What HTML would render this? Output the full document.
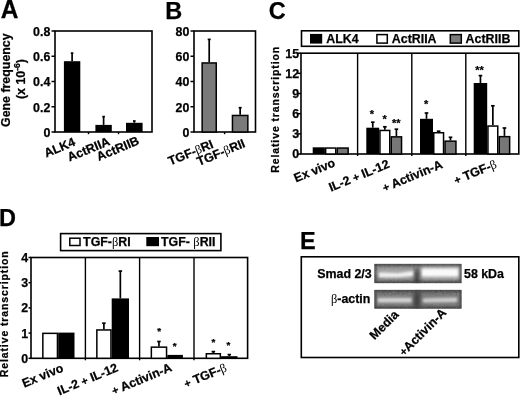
<!DOCTYPE html>
<html><head><meta charset="utf-8"><style>
html,body{margin:0;padding:0;background:#fff;width:520px;height:396px;overflow:hidden}
svg{display:block;will-change:transform} text{stroke:#000;stroke-width:0.25px} .b{stroke-width:0}
</style></head><body>
<svg width="520" height="396" viewBox="0 0 520 396" font-family="Liberation Sans, sans-serif" font-weight="bold">
<text id="pA" x="0.8" y="17.6" font-size="24.5" transform="translate(0 17.6) scale(1 1.08) translate(0 -17.6)">A</text>
<text id="pB" x="165.3" y="18.65" font-size="23.5" text-anchor="start">B</text>
<text id="pC" x="268.85" y="18.5" font-size="23.5" text-anchor="start">C</text>
<text id="pD" x="-1.1" y="225.65" font-size="23.5" text-anchor="start">D</text>
<text id="pE" x="300.0" y="249.05" font-size="23.5" text-anchor="start">E</text>
<rect x="55" y="31.0" width="97" height="101.0" fill="none" stroke="#000" stroke-width="1.6"/>
<line x1="51.5" y1="31" x2="55" y2="31" stroke="#000" stroke-width="1.5"/>
<text x="50.3" y="35.95" font-size="12.4" text-anchor="end">0.8</text>
<line x1="51.5" y1="56.25" x2="55" y2="56.25" stroke="#000" stroke-width="1.5"/>
<text x="50.3" y="61.2" font-size="12.4" text-anchor="end">0.6</text>
<line x1="51.5" y1="81.5" x2="55" y2="81.5" stroke="#000" stroke-width="1.5"/>
<text x="50.3" y="86.45" font-size="12.4" text-anchor="end">0.4</text>
<line x1="51.5" y1="106.75" x2="55" y2="106.75" stroke="#000" stroke-width="1.5"/>
<text x="50.3" y="111.7" font-size="12.4" text-anchor="end">0.2</text>
<line x1="51.5" y1="132.0" x2="55" y2="132.0" stroke="#000" stroke-width="1.5"/>
<text x="50.3" y="136.95" font-size="12.4" text-anchor="end">0</text>
<rect x="63.9" y="61.2" width="16.4" height="70.8" fill="#000"/>
<line x1="72.1" y1="61.2" x2="72.1" y2="53.1" stroke="#000" stroke-width="1.7"/>
<line x1="70.8" y1="53.1" x2="73.4" y2="53.1" stroke="#000" stroke-width="1.7"/>
<rect x="95.4" y="124.9" width="16.4" height="7.1" fill="#000"/>
<line x1="103.6" y1="124.9" x2="103.6" y2="116.6" stroke="#000" stroke-width="1.7"/>
<line x1="102.3" y1="116.6" x2="104.9" y2="116.6" stroke="#000" stroke-width="1.7"/>
<rect x="126" y="122.8" width="16.6" height="9.2" fill="#000"/>
<line x1="134.3" y1="122.8" x2="134.3" y2="121" stroke="#000" stroke-width="1.7"/>
<line x1="133.0" y1="121" x2="135.6" y2="121" stroke="#000" stroke-width="1.7"/>
<line x1="88.5" y1="132.0" x2="88.5" y2="134.2" stroke="#000" stroke-width="1.4"/>
<line x1="118.5" y1="132.0" x2="118.5" y2="134.2" stroke="#000" stroke-width="1.4"/>
<text id="ya1" x="10.2" y="127.0" font-size="12.4" text-anchor="start" transform="rotate(-90 10.2 127.0)">Gene frequency</text>
<text id="ya2" x="24.95" y="99.0" font-size="12.4" text-anchor="start" transform="rotate(-90 24.95 99.0)">(x 10<tspan font-size="8.5" dy="-5">-6</tspan><tspan dy="5">)</tspan></text>
<text id="la1" x="46.3" y="157.6" font-size="12.4" text-anchor="start" transform="rotate(-22.5 46.3 157.6)">ALK4</text>
<text id="la2" x="69.5" y="161.6" font-size="12.4" text-anchor="start" transform="rotate(-22.5 69.5 161.6)">ActRIIA</text>
<text id="la3" x="98.8" y="161.0" font-size="12.4" text-anchor="start" transform="rotate(-22.5 98.8 161.0)">ActRIIB</text>
<rect x="194" y="31.0" width="61.5" height="101.0" fill="none" stroke="#000" stroke-width="1.6"/>
<line x1="190.5" y1="31.0" x2="194" y2="31.0" stroke="#000" stroke-width="1.5"/>
<text x="189.3" y="35.95" font-size="12.4" text-anchor="end">80</text>
<line x1="190.5" y1="56.25" x2="194" y2="56.25" stroke="#000" stroke-width="1.5"/>
<text x="189.3" y="61.2" font-size="12.4" text-anchor="end">60</text>
<line x1="190.5" y1="81.5" x2="194" y2="81.5" stroke="#000" stroke-width="1.5"/>
<text x="189.3" y="86.45" font-size="12.4" text-anchor="end">40</text>
<line x1="190.5" y1="106.75" x2="194" y2="106.75" stroke="#000" stroke-width="1.5"/>
<text x="189.3" y="111.7" font-size="12.4" text-anchor="end">20</text>
<line x1="190.5" y1="132.0" x2="194" y2="132.0" stroke="#000" stroke-width="1.5"/>
<text x="189.3" y="136.95" font-size="12.4" text-anchor="end">0</text>
<rect x="202.15" y="62.95" width="14.1" height="69.05" fill="#7a7a7a" stroke="#000" stroke-width="1.5"/>
<line x1="209.2" y1="62.2" x2="209.2" y2="39.4" stroke="#000" stroke-width="1.7"/>
<line x1="207.7" y1="39.4" x2="210.7" y2="39.4" stroke="#000" stroke-width="1.7"/>
<rect x="232.45" y="115.45" width="15.4" height="16.55" fill="#7a7a7a" stroke="#000" stroke-width="1.5"/>
<line x1="240.15" y1="114.7" x2="240.15" y2="107.7" stroke="#000" stroke-width="1.7"/>
<line x1="238.65" y1="107.7" x2="241.65" y2="107.7" stroke="#000" stroke-width="1.7"/>
<line x1="224.6" y1="132.0" x2="224.6" y2="134.2" stroke="#000" stroke-width="1.4"/>
<text id="lb1" x="170.3" y="165.6" font-size="12.4" text-anchor="start" transform="rotate(-22.5 170.3 165.6)">TGF-<tspan class="b" font-family="Liberation Serif, serif" font-weight="normal">&#946;</tspan>RI</text>
<text id="lb2" x="198.9" y="166.1" font-size="12.4" text-anchor="start" transform="rotate(-22.5 198.9 166.1)">TGF-<tspan class="b" font-family="Liberation Serif, serif" font-weight="normal">&#946;</tspan>RII</text>
<rect x="301.5" y="30.8" width="217.3" height="15.5" fill="none" stroke="#000" stroke-width="1.6"/>
<rect x="310" y="33.9" width="12.2" height="9.7" fill="#000"/>
<text x="326.2" y="43.3" font-size="12.4" text-anchor="start">ALK4</text>
<rect x="376.9" y="34.6" width="10.4" height="8.5" fill="#fff" stroke="#000" stroke-width="1.5"/>
<text x="391.8" y="43.3" font-size="12.4" text-anchor="start">ActRIIA</text>
<rect x="450.3" y="34.6" width="11.0" height="8.5" fill="#7a7a7a" stroke="#000" stroke-width="1.5"/>
<text x="465.6" y="43.3" font-size="12.4" text-anchor="start">ActRIIB</text>
<rect x="301" y="53.2" width="217.8" height="100.8" fill="none" stroke="#000" stroke-width="1.6"/>
<line x1="357.6" y1="53.2" x2="357.6" y2="156" stroke="#000" stroke-width="1.4"/>
<line x1="411.8" y1="53.2" x2="411.8" y2="156" stroke="#000" stroke-width="1.4"/>
<line x1="465.8" y1="53.2" x2="465.8" y2="156" stroke="#000" stroke-width="1.4"/>
<line x1="297.5" y1="53.2" x2="301" y2="53.2" stroke="#000" stroke-width="1.5"/>
<text x="299.1" y="57.65" font-size="12.4" text-anchor="end">15</text>
<line x1="297.5" y1="73.36" x2="301" y2="73.36" stroke="#000" stroke-width="1.5"/>
<text x="299.1" y="77.81" font-size="12.4" text-anchor="end">12</text>
<line x1="297.5" y1="93.52" x2="301" y2="93.52" stroke="#000" stroke-width="1.5"/>
<text x="299.1" y="97.97" font-size="12.4" text-anchor="end">9</text>
<line x1="297.5" y1="113.68" x2="301" y2="113.68" stroke="#000" stroke-width="1.5"/>
<text x="299.1" y="118.13" font-size="12.4" text-anchor="end">6</text>
<line x1="297.5" y1="133.84" x2="301" y2="133.84" stroke="#000" stroke-width="1.5"/>
<text x="299.1" y="138.29" font-size="12.4" text-anchor="end">3</text>
<line x1="297.5" y1="154.0" x2="301" y2="154.0" stroke="#000" stroke-width="1.5"/>
<text x="299.1" y="158.45" font-size="12.4" text-anchor="end">0</text>
<rect x="312.7" y="147.3" width="12.2" height="6.7" fill="#000"/>
<rect x="325.65" y="148.05" width="10.1" height="5.95" fill="#fff" stroke="#000" stroke-width="1.5"/>
<rect x="337.25" y="148.05" width="10.9" height="5.95" fill="#777" stroke="#000" stroke-width="1.5"/>
<rect x="366.3" y="127.7" width="12.9" height="26.3" fill="#000"/>
<line x1="372.75" y1="127.7" x2="372.75" y2="122.2" stroke="#000" stroke-width="1.7"/>
<line x1="370.95" y1="122.2" x2="374.55" y2="122.2" stroke="#000" stroke-width="1.7"/>
<rect x="379.95" y="130.45" width="9.8" height="23.55" fill="#fff" stroke="#000" stroke-width="1.5"/>
<line x1="384.85" y1="129.7" x2="384.85" y2="126.8" stroke="#000" stroke-width="1.7"/>
<line x1="383.05" y1="126.8" x2="386.65" y2="126.8" stroke="#000" stroke-width="1.7"/>
<rect x="391.25" y="136.85" width="10.3" height="17.15" fill="#777" stroke="#000" stroke-width="1.5"/>
<line x1="396.4" y1="136.1" x2="396.4" y2="129.2" stroke="#000" stroke-width="1.7"/>
<line x1="394.6" y1="129.2" x2="398.2" y2="129.2" stroke="#000" stroke-width="1.7"/>
<rect x="420" y="118.8" width="13" height="35.2" fill="#000"/>
<line x1="426.5" y1="118.8" x2="426.5" y2="113" stroke="#000" stroke-width="1.7"/>
<line x1="424.7" y1="113" x2="428.3" y2="113" stroke="#000" stroke-width="1.7"/>
<rect x="433.75" y="132.75" width="9.8" height="21.25" fill="#fff" stroke="#000" stroke-width="1.5"/>
<line x1="438.65" y1="132" x2="438.65" y2="131.2" stroke="#000" stroke-width="1.7"/>
<line x1="436.85" y1="131.2" x2="440.45" y2="131.2" stroke="#000" stroke-width="1.7"/>
<rect x="445.05" y="141.15" width="10.9" height="12.85" fill="#777" stroke="#000" stroke-width="1.5"/>
<line x1="450.5" y1="140.4" x2="450.5" y2="137.3" stroke="#000" stroke-width="1.7"/>
<line x1="448.7" y1="137.3" x2="452.3" y2="137.3" stroke="#000" stroke-width="1.7"/>
<rect x="473.7" y="83" width="13.5" height="71" fill="#000"/>
<line x1="480.45" y1="83" x2="480.45" y2="75.6" stroke="#000" stroke-width="1.7"/>
<line x1="478.65" y1="75.6" x2="482.25" y2="75.6" stroke="#000" stroke-width="1.7"/>
<rect x="487.95" y="126.05" width="9.8" height="27.95" fill="#fff" stroke="#000" stroke-width="1.5"/>
<line x1="492.85" y1="125.3" x2="492.85" y2="105.8" stroke="#000" stroke-width="1.7"/>
<line x1="491.05" y1="105.8" x2="494.65" y2="105.8" stroke="#000" stroke-width="1.7"/>
<rect x="499.25" y="136.65" width="10.4" height="17.35" fill="#777" stroke="#000" stroke-width="1.5"/>
<line x1="504.45" y1="135.9" x2="504.45" y2="128" stroke="#000" stroke-width="1.7"/>
<line x1="502.65" y1="128" x2="506.25" y2="128" stroke="#000" stroke-width="1.7"/>
<text id="st1" x="372.0" y="117.5" font-size="11" text-anchor="middle">*</text>
<text id="st2" x="384.7" y="122.9" font-size="11" text-anchor="middle">*</text>
<text id="st3" x="396.3" y="126.5" font-size="11" text-anchor="middle">**</text>
<text id="st4" x="426.2" y="108.4" font-size="11" text-anchor="middle">*</text>
<text id="st5" x="479.6" y="73.6" font-size="11" text-anchor="middle">**</text>
<text id="yc" x="278.7" y="172.7" font-size="10.5" text-anchor="start" transform="rotate(-90 278.7 172.7)" letter-spacing="0.88">Relative transcription</text>
<text id="lc1" x="296.0" y="182.5" font-size="12.4" text-anchor="start" transform="rotate(-22.5 296.0 182.5)">Ex vivo</text>
<text id="lc2" x="330.9" y="191.8" font-size="12.4" text-anchor="start" transform="rotate(-22.5 330.9 191.8)">IL-2 <tspan font-size="11">+</tspan> IL-12</text>
<text id="lc3" x="384.5" y="192.0" font-size="12.4" text-anchor="start" transform="rotate(-22.5 384.5 192.0)"><tspan font-size="11">+</tspan> Activin-A</text>
<text id="lc4" x="456.0" y="184.5" font-size="12.4" text-anchor="start" transform="rotate(-22.5 456.0 184.5)"><tspan font-size="11">+</tspan> TGF-<tspan class="b" font-family="Liberation Serif, serif" font-weight="normal">&#946;</tspan></text>
<rect x="60.6" y="233.6" width="160.3" height="17.0" fill="none" stroke="#000" stroke-width="1.6"/>
<rect x="69.8" y="238.2" width="10.2" height="7.3" fill="#fff" stroke="#000" stroke-width="1.5"/>
<text x="83.1" y="246.3" font-size="12.4" text-anchor="start">TGF-<tspan class="b" font-family="Liberation Serif, serif" font-weight="normal">&#946;</tspan>RI</text>
<rect x="146.3" y="237" width="12.7" height="9.2" fill="#000"/>
<text x="161" y="246.3" font-size="12.4" text-anchor="start">TGF- <tspan class="b" font-family="Liberation Serif, serif" font-weight="normal">&#946;</tspan>RII</text>
<rect x="31" y="257.5" width="216.6" height="100.8" fill="none" stroke="#000" stroke-width="1.6"/>
<line x1="85.4" y1="257.5" x2="85.4" y2="360.3" stroke="#000" stroke-width="1.4"/>
<line x1="139.6" y1="257.5" x2="139.6" y2="360.3" stroke="#000" stroke-width="1.4"/>
<line x1="194" y1="257.5" x2="194" y2="360.3" stroke="#000" stroke-width="1.4"/>
<line x1="28.5" y1="257.5" x2="31" y2="257.5" stroke="#000" stroke-width="1.5"/>
<text x="28.2" y="261.95" font-size="12.4" text-anchor="end">4</text>
<line x1="28.5" y1="282.7" x2="31" y2="282.7" stroke="#000" stroke-width="1.5"/>
<text x="28.2" y="287.15" font-size="12.4" text-anchor="end">3</text>
<line x1="28.5" y1="307.9" x2="31" y2="307.9" stroke="#000" stroke-width="1.5"/>
<text x="28.2" y="312.35" font-size="12.4" text-anchor="end">2</text>
<line x1="28.5" y1="333.1" x2="31" y2="333.1" stroke="#000" stroke-width="1.5"/>
<text x="28.2" y="337.55" font-size="12.4" text-anchor="end">1</text>
<line x1="28.5" y1="358.3" x2="31" y2="358.3" stroke="#000" stroke-width="1.5"/>
<text x="28.2" y="362.75" font-size="12.4" text-anchor="end">0</text>
<rect x="42.85" y="333.35" width="14.6" height="24.95" fill="#fff" stroke="#000" stroke-width="1.5"/>
<rect x="58.2" y="332.6" width="16.3" height="25.7" fill="#000"/>
<rect x="96.85" y="329.95" width="14.1" height="28.35" fill="#fff" stroke="#000" stroke-width="1.5"/>
<line x1="103.9" y1="329.2" x2="103.9" y2="323.2" stroke="#000" stroke-width="1.7"/>
<line x1="102.15" y1="323.2" x2="105.65" y2="323.2" stroke="#000" stroke-width="1.7"/>
<rect x="111.7" y="298.4" width="17.3" height="59.9" fill="#000"/>
<line x1="120.35" y1="298.4" x2="120.35" y2="271.1" stroke="#000" stroke-width="1.7"/>
<line x1="118.6" y1="271.1" x2="122.1" y2="271.1" stroke="#000" stroke-width="1.7"/>
<rect x="151.35" y="347.15" width="15.2" height="11.15" fill="#fff" stroke="#000" stroke-width="1.5"/>
<line x1="158.95" y1="346.4" x2="158.95" y2="341.5" stroke="#000" stroke-width="1.7"/>
<line x1="157.2" y1="341.5" x2="160.7" y2="341.5" stroke="#000" stroke-width="1.7"/>
<rect x="167.3" y="354.9" width="15.6" height="3.4" fill="#000"/>
<rect x="206.35" y="353.75" width="14.0" height="4.55" fill="#fff" stroke="#000" stroke-width="1.5"/>
<line x1="213.35" y1="353" x2="213.35" y2="351.6" stroke="#000" stroke-width="1.7"/>
<line x1="211.6" y1="351.6" x2="215.1" y2="351.6" stroke="#000" stroke-width="1.7"/>
<rect x="221.1" y="356.2" width="16.4" height="2.1" fill="#000"/>
<line x1="229.3" y1="356.2" x2="229.3" y2="354.6" stroke="#000" stroke-width="1.7"/>
<line x1="227.55" y1="354.6" x2="231.05" y2="354.6" stroke="#000" stroke-width="1.7"/>
<text id="st6" x="159.1" y="334.3" font-size="9.8" text-anchor="middle">*</text>
<text id="st7" x="174.6" y="348.7" font-size="9.8" text-anchor="middle">*</text>
<text id="st8" x="213.4" y="345.3" font-size="9.8" text-anchor="middle">*</text>
<text id="st9" x="228.5" y="348.1" font-size="9.8" text-anchor="middle">*</text>
<text id="yd" x="8.2" y="377.2" font-size="10.5" text-anchor="start" transform="rotate(-90 8.2 377.2)" letter-spacing="0.88">Relative transcription</text>
<text id="ld1" x="24.2" y="387.7" font-size="12.4" text-anchor="start" transform="rotate(-22.5 24.2 387.7)">Ex vivo</text>
<text id="ld2" x="59.5" y="395.4" font-size="12.4" text-anchor="start" transform="rotate(-22.5 59.5 395.4)">IL-2 <tspan font-size="11">+</tspan> IL-12</text>
<text id="ld3" x="113.8" y="395.1" font-size="12.4" text-anchor="start" transform="rotate(-22.5 113.8 395.1)"><tspan font-size="11">+</tspan> Activin-A</text>
<text id="ld4" x="186.0" y="388.0" font-size="12.4" text-anchor="start" transform="rotate(-22.5 186.0 388.0)"><tspan font-size="11">+</tspan> TGF-<tspan class="b" font-family="Liberation Serif, serif" font-weight="normal">&#946;</tspan></text>
<rect x="301.3" y="256.8" width="217.5" height="100.7" fill="none" stroke="#000" stroke-width="1.6"/>
<text x="317.3" y="277.5" font-size="12.4" text-anchor="start">Smad 2/3</text>
<text x="464" y="277.8" font-size="12.4" text-anchor="start">58 kDa</text>
<text x="331" y="302.5" font-size="12.4" text-anchor="start"><tspan class="b" font-family="Liberation Serif, serif" font-weight="normal">&#946;</tspan>-actin</text>
<defs>
<filter id="bl" x="-20%" y="-50%" width="140%" height="200%"><feGaussianBlur stdDeviation="1.2"/></filter>
<filter id="bl2" x="-20%" y="-50%" width="140%" height="200%"><feGaussianBlur stdDeviation="0.8"/></filter>
<filter id="bl3" x="-20%" y="-50%" width="140%" height="200%"><feGaussianBlur stdDeviation="2.2"/></filter>
<filter id="nz" x="0" y="0" width="100%" height="100%"><feTurbulence type="fractalNoise" baseFrequency="0.45" numOctaves="2" seed="3"/><feColorMatrix type="matrix" values="1.6 0 0 0 -0.3  1.6 0 0 0 -0.3  1.6 0 0 0 -0.3  0 0 0 0 1"/></filter>
<clipPath id="c1"><rect x="374.2" y="263.8" width="87.5" height="19.5"/></clipPath>
<clipPath id="c2"><rect x="374.2" y="289.8" width="87.5" height="19"/></clipPath>
<linearGradient id="g1" x1="0" y1="0" x2="0" y2="1"><stop offset="0" stop-color="#454545"/><stop offset="0.12" stop-color="#6e6e6e"/><stop offset="0.4" stop-color="#858585"/><stop offset="0.75" stop-color="#626262"/><stop offset="1" stop-color="#424242"/></linearGradient>
<linearGradient id="g2" x1="0" y1="0" x2="0" y2="1"><stop offset="0" stop-color="#454545"/><stop offset="0.15" stop-color="#5c5c5c"/><stop offset="0.5" stop-color="#626262"/><stop offset="0.85" stop-color="#585858"/><stop offset="1" stop-color="#424242"/></linearGradient>
</defs>
<g clip-path="url(#c1)">
<rect x="374.2" y="263.8" width="87.5" height="19.5" fill="url(#g1)"/>
<rect x="374.2" y="263.8" width="87.5" height="19.5" filter="url(#nz)" opacity="0.2"/>
<g filter="url(#bl3)"><rect x="378" y="268.5" width="36" height="11" fill="#aaaaaa"/><rect x="421" y="266" width="39" height="13.5" fill="#bdbdbd"/><ellipse cx="417" cy="277" rx="3.5" ry="9" fill="#3a3a3a"/></g>
<g filter="url(#bl)">
<polygon points="379,272.5 398,273.2 413,271 413,276 398,277.2 379,277.3" fill="#f0f0f0"/>
<rect x="422" y="268.8" width="36" height="7.4" fill="#fafafa"/>
</g>
<rect x="375" y="264.6" width="86" height="18" fill="none" stroke="#3c3c3c" stroke-width="1.6" filter="url(#bl2)"/>
</g>
<g clip-path="url(#c2)">
<rect x="374.2" y="289.8" width="87.5" height="19" fill="url(#g2)"/>
<rect x="374.2" y="289.8" width="87.5" height="19" filter="url(#nz)" opacity="0.2"/>
<g filter="url(#bl3)"><rect x="377" y="295.5" width="35" height="9" fill="#8a8a8a"/><rect x="422" y="295.5" width="36" height="9" fill="#858585"/><ellipse cx="417" cy="300" rx="4" ry="10" fill="#404040"/></g>
<g filter="url(#bl2)">
<rect x="377.8" y="298" width="33.8" height="4.4" fill="#d2d2d2"/>
<polygon points="422.8,298.4 457,297.6 457,302 422.8,302.6" fill="#cbcbcb"/>
</g>
<rect x="375" y="290.6" width="86" height="17.4" fill="none" stroke="#3c3c3c" stroke-width="1.6" filter="url(#bl2)"/>
</g>
<text id="le1" x="374.6" y="340.2" font-size="12.4" text-anchor="start" transform="rotate(-45 374.6 340.2)">Media</text>
<text id="le2" x="404.0" y="356.5" font-size="12.4" text-anchor="start" transform="rotate(-45 404.0 356.5)"><tspan font-size="11">+</tspan>Activin-A</text>
</svg>
</body></html>
